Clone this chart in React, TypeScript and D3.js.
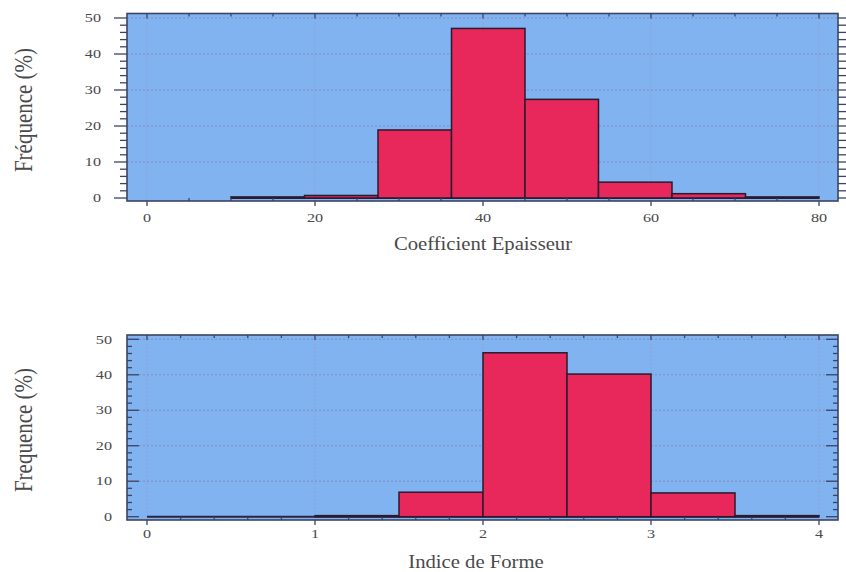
import React, { useEffect, useRef } from "react";
import * as d3 from "d3";

// Coefficient Epaisseur histogram
const epaisseurEdges = [10, 18.75, 27.5, 36.25, 45, 53.75, 62.5, 71.25, 80];
const epaisseurFreq = [0.3, 0.7, 18.9, 47.1, 27.4, 4.4, 1.2, 0.3];
const epaisseurTicks = [0, 20, 40, 60, 80];

// Indice de Forme histogram
const formeEdges = [0, 0.5, 1, 1.5, 2, 2.5, 3, 3.5, 4];
const formeFreq = [0, 0, 0.3, 6.9, 46.2, 40.2, 6.7, 0.3];
const formeTicks = [0, 1, 2, 3, 4];

const freqTicks = [0, 10, 20, 30, 40, 50];

const BG = "#80b3f0";
const BAR = "#e8285a";
const FRAME = "#3b4464";
const TEXT = "#4a4a4a";
const FONT = "'Liberation Serif', 'DejaVu Serif', serif";

const panels = [
  {
    edges: epaisseurEdges, freq: epaisseurFreq, xTicks: epaisseurTicks,
    xDomain: [0, 80], xRange: [147, 819], yRange: [198, 18],
    left: 127, right: 838, top: 13.5, bottom: 201,
    xMinor: 16, yLabel: "Fréquence (%)", xLabel: "Coefficient Epaisseur",
    ticksOut: true, yTickX: 101, xTickY: 222, xLabelX: 483, xLabelY: 250, yLabelCy: 110,
  },
  {
    edges: formeEdges, freq: formeFreq, xTicks: formeTicks,
    xDomain: [0, 4], xRange: [147, 819], yRange: [516.7, 339.3],
    left: 127, right: 838, top: 335, bottom: 520,
    xMinor: 20, yLabel: "Frequence (%)", xLabel: "Indice de Forme",
    ticksOut: false, yTickX: 112, xTickY: 538, xLabelX: 476, xLabelY: 568, yLabelCy: 430,
  },
];

function drawPanel(svg, p) {
  const x = d3.scaleLinear().domain(p.xDomain).range(p.xRange);
  const y = d3.scaleLinear().domain([0, 50]).range(p.yRange);
  const g = svg.append("g");

  g.append("rect")
    .attr("x", p.left).attr("y", p.top)
    .attr("width", p.right - p.left).attr("height", p.bottom - p.top)
    .attr("fill", BG);

  // grid
  g.selectAll(".hgrid").data(freqTicks.slice(1)).join("line")
    .attr("x1", p.left).attr("x2", p.right)
    .attr("y1", (d) => y(d)).attr("y2", (d) => y(d))
    .attr("stroke", "#8a7fb0").attr("stroke-width", 1)
    .attr("stroke-dasharray", "2,2").attr("opacity", 0.75);
  g.selectAll(".vgrid").data(p.xTicks).join("line")
    .attr("x1", (d) => x(d)).attr("x2", (d) => x(d))
    .attr("y1", p.top).attr("y2", p.bottom)
    .attr("stroke", "#9a94c0").attr("stroke-width", 1)
    .attr("stroke-dasharray", "2,2").attr("opacity", 0.6);

  // baseline under empty bins
  g.append("line")
    .attr("x1", x(p.edges[0])).attr("x2", x(p.edges[p.edges.length - 1]))
    .attr("y1", y(0)).attr("y2", y(0))
    .attr("stroke", "#2a2440").attr("stroke-width", 2);

  const bins = p.freq.map((v, i) => ({ x0: p.edges[i], x1: p.edges[i + 1], v }));
  g.selectAll(".bar").data(bins.filter((b) => b.v > 0)).join("rect")
    .attr("x", (d) => x(d.x0)).attr("width", (d) => x(d.x1) - x(d.x0))
    .attr("y", (d) => y(d.v)).attr("height", (d) => Math.max(0.8, y(0) - y(d.v)))
    .attr("fill", BAR).attr("stroke", "#2a1a2e").attr("stroke-width", 1.5);

  g.append("rect")
    .attr("x", p.left).attr("y", p.top)
    .attr("width", p.right - p.left).attr("height", p.bottom - p.top)
    .attr("fill", "none").attr("stroke", FRAME).attr("stroke-width", 1.6);

  // ticks
  const yMinor = y.ticks(25).filter((d) => d % 10 !== 0);
  const xMinor = x.ticks(p.xMinor).filter((d) => !p.xTicks.includes(d));
  const tick = (x1, y1, x2, y2) =>
    g.append("line").attr("x1", x1).attr("y1", y1).attr("x2", x2).attr("y2", y2)
      .attr("stroke", FRAME).attr("stroke-width", 1.3);

  const s = p.ticksOut ? -1 : 1;
  freqTicks.forEach((d) => {
    tick(p.left, y(d), p.left + s * (p.ticksOut ? 13 : 12), y(d));
    tick(p.right, y(d), p.right - s * (p.ticksOut ? 8 : 12), y(d));
  });
  yMinor.forEach((d) => {
    tick(p.left, y(d), p.left + s * (p.ticksOut ? 7 : 5), y(d));
    tick(p.right, y(d), p.right - s * (p.ticksOut ? 8 : 5), y(d));
  });
  p.xTicks.forEach((d) => {
    tick(x(d), p.top, x(d), p.top + 5);
    tick(x(d), p.bottom, x(d), p.bottom + 5);
  });
  xMinor.forEach((d) => {
    tick(x(d), p.top, x(d), p.top + 3);
    tick(x(d), p.bottom, x(d), p.bottom - 3);
  });

  // tick labels
  g.selectAll(".ylab").data(freqTicks).join("text")
    .attr("transform", (d) => `translate(${p.yTickX},${y(d)}) scale(1.35,1)`)
    .attr("dy", "0.35em").attr("text-anchor", "end")
    .attr("font-family", FONT).attr("font-size", 12).attr("fill", TEXT)
    .text((d) => d);
  g.selectAll(".xlab").data(p.xTicks).join("text")
    .attr("transform", (d) => `translate(${x(d)},${p.xTickY}) scale(1.35,1)`)
    .attr("text-anchor", "middle")
    .attr("font-family", FONT).attr("font-size", 12).attr("fill", TEXT)
    .text((d) => d);

  // titles
  g.append("text")
    .attr("transform", `translate(${p.xLabelX},${p.xLabelY}) scale(1.15,1)`)
    .attr("text-anchor", "middle")
    .attr("font-family", FONT).attr("font-size", 18).attr("fill", TEXT)
    .text(p.xLabel);
  g.append("text")
    .attr("transform", `translate(32,${p.yLabelCy}) rotate(-90) scale(1,1.2)`)
    .attr("text-anchor", "middle")
    .attr("font-family", FONT).attr("font-size", 21).attr("fill", TEXT)
    .text(p.yLabel);
}

export default function App() {
  const ref = useRef<SVGSVGElement>(null);

  useEffect(() => {
    const svg = d3.select(ref.current);
    svg.selectAll("*").remove();
    panels.forEach((p) => drawPanel(svg, p));
  }, []);

  return (
    <svg
      ref={ref}
      width={846}
      height={572}
      style={{ position: "absolute", left: 0, top: 0, background: "#fff" }}
    />
  );
}
